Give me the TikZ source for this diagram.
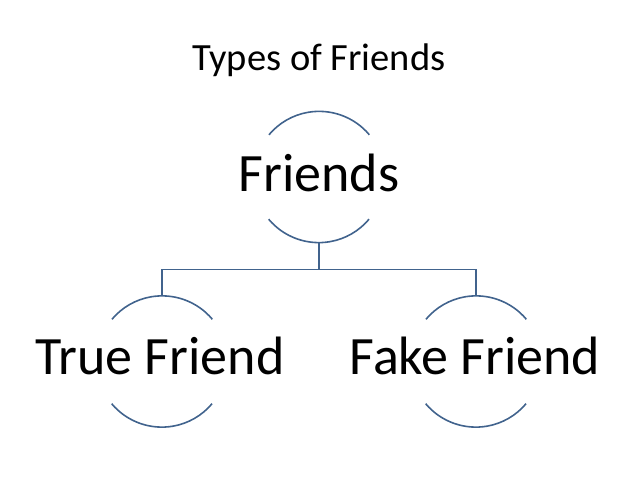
\documentclass[tikz,border=0pt]{standalone}
\usepackage{fontspec}
\setmainfont{Carlito}
\definecolor{linkblue}{HTML}{41638D}

\begin{document}
\begin{tikzpicture}[x=1pt,y=1pt,
    ring/.style={circle,minimum size=131pt,inner sep=0pt},
    arcline/.style={draw=linkblue,line width=1.6pt},
    big/.style={anchor=base,inner sep=0pt,font=\fontsize{54}{62}\selectfont}]
    \useasboundingbox (0,0) rectangle (638,479);
    \node[anchor=base,inner sep=0pt,font=\fontsize{38.5}{44}\selectfont](title) at (319,408) {Types of Friends};
    % rings
    \node[ring](friendsc) at (319,302) {};
    \node[ring](truec) at (162,117.5) {};
    \node[ring](fakec) at (476,117.5) {};
    \foreach \r in {friendsc,truec,fakec}{
        \draw[arcline](\r.40) arc[start angle=40,end angle=140,radius=65.5];
        \draw[arcline](\r.220) arc[start angle=220,end angle=320,radius=65.5];
    }
    \node[big](friends) at (319,287) {Friends};
    \node[big](truef) at (160,104) {True Friend};
    \node[big](fakef) at (475,104) {Fake Friend};
    % tree lines
    \draw[arcline](friendsc.south)--++(0,-27)-|(truec.north);
    \draw[arcline](friendsc.south)--++(0,-27)-|(fakec.north);
\end{tikzpicture}
\end{document}
